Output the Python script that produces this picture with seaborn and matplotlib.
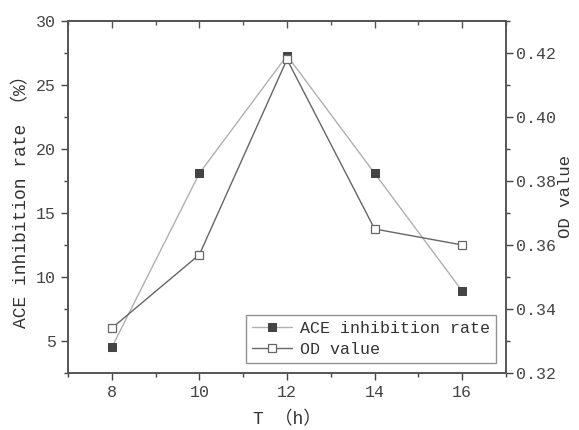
import matplotlib
matplotlib.use("Agg")
import matplotlib.pyplot as plt
import seaborn as sns
import pandas as pd
from matplotlib.ticker import MultipleLocator

hours = [8, 10, 12, 14, 16]
ace_rate = [4.5, 18.1, 27.3, 18.1, 8.9]
od_value = [0.334, 0.357, 0.418, 0.365, 0.360]

sns.set_style("ticks")
plt.rcParams['font.family'] = ['Liberation Mono', 'Noto Sans CJK SC', 'DejaVu Sans']
plt.rcParams['text.color'] = '#333333'
plt.rcParams['axes.labelcolor'] = '#333333'
plt.rcParams['xtick.color'] = '#444444'
plt.rcParams['ytick.color'] = '#444444'

df = pd.DataFrame({"T": hours, "ACE": ace_rate, "OD": od_value})

fig = plt.figure(figsize=(5.79, 4.30), dpi=100)
ax = fig.add_axes([0.1174, 0.1326, 0.7566, 0.8186])
ax2 = ax.twinx()

sns.lineplot(data=df, x="T", y="ACE", ax=ax, color="#b0b0b0", lw=1.0,
             marker="s", markersize=6, markerfacecolor="#444444",
             markeredgecolor="#444444", label="ACE inhibition rate", legend=False)
sns.lineplot(data=df, x="T", y="OD", ax=ax2, color="#666666", lw=1.0,
             marker="s", markersize=6, markerfacecolor="white",
             markeredgecolor="#666666", markeredgewidth=0.9,
             label="OD value", legend=False)

ax.set_xlim(7, 17)
ax.set_ylim(2.5, 30)
ax2.set_ylim(0.32, 0.43)

ax.xaxis.set_major_locator(MultipleLocator(2))
ax.xaxis.set_minor_locator(MultipleLocator(1))
ax.yaxis.set_major_locator(MultipleLocator(5))
ax.yaxis.set_minor_locator(MultipleLocator(2.5))
ax2.yaxis.set_major_locator(MultipleLocator(0.02))
ax2.yaxis.set_minor_locator(MultipleLocator(0.01))
ax2.yaxis.set_major_formatter(matplotlib.ticker.FormatStrFormatter("%.2f"))

for a in (ax, ax2):
    for s in a.spines.values():
        s.set_visible(True)
        s.set_color("#555555")
        s.set_linewidth(1.2)

ax.tick_params(axis='both', which='major', direction='out', length=5, width=1, labelsize=12)
ax.tick_params(axis='both', which='minor', direction='out', length=3, width=1)
ax2.tick_params(axis='y', which='major', direction='out', length=5, width=1, labelsize=12, pad=2.5)
ax2.tick_params(axis='y', which='minor', direction='out', length=3, width=1)

top = ax.secondary_xaxis('top')
top.xaxis.set_major_locator(MultipleLocator(2))
top.xaxis.set_minor_locator(MultipleLocator(1))
top.tick_params(which='major', direction='in', length=5, width=1, labeltop=False, color="#555555")
top.tick_params(which='minor', direction='in', length=3, width=1, color="#555555")
top.spines['top'].set_color("#555555")
top.spines['top'].set_linewidth(1.2)

ax.set_xlabel("T （h）", fontsize=13, labelpad=8)
ax.set_ylabel("ACE inhibition rate （%）", fontsize=13, labelpad=4)
ax2.set_ylabel("OD value", fontsize=12.5, labelpad=1)

h1, l1 = ax.get_legend_handles_labels()
h2, l2 = ax2.get_legend_handles_labels()
leg = ax2.legend(h1 + h2, l1 + l2, loc="lower right", fontsize=12,
                 frameon=True, fancybox=False, edgecolor="#777777",
                 borderpad=0.35, labelspacing=0.35, handlelength=2.4,
                 handletextpad=0.5, borderaxespad=0.6)
leg.get_frame().set_linewidth(1.0)

fig.savefig("out.png", dpi=100)
